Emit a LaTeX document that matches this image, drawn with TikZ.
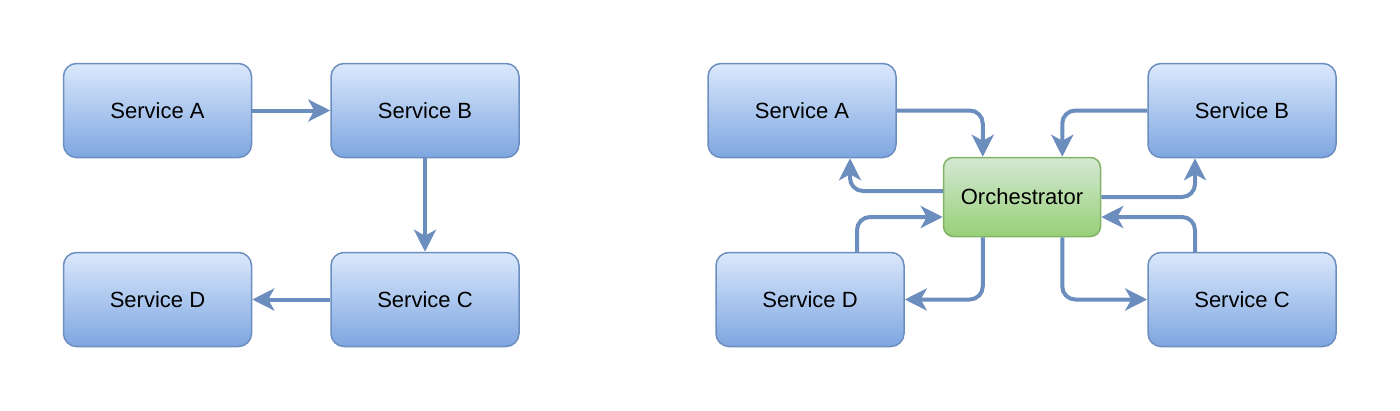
\documentclass[tikz,border=0pt]{standalone}
\usepackage{fontspec}
\setmainfont{Liberation Sans}
\usetikzlibrary{arrows.meta}
\definecolor{bluetop}{HTML}{DAE8FC}
\definecolor{bluebot}{HTML}{7EA6E0}
\definecolor{bluestroke}{HTML}{6C8EBF}
\definecolor{greentop}{HTML}{D5E8D4}
\definecolor{greenbot}{HTML}{97D077}
\definecolor{greenstroke}{HTML}{82B366}
\tikzset{
  svc/.style={draw=bluestroke, line width=1.5pt, rounded corners=13pt,
    top color=bluetop, bottom color=bluebot, minimum width=188pt, minimum height=94pt,
    inner sep=0pt, font=\fontsize{22}{26}\selectfont, text=black},
  orch/.style={draw=greenstroke, line width=1.5pt, rounded corners=10pt,
    top color=greentop, bottom color=greenbot, minimum width=157pt, minimum height=79pt,
    inner sep=0pt, font=\fontsize{22}{26}\selectfont, text=black},
  arr/.style={draw=bluestroke, line width=4pt, rounded corners=13pt,
    -{Stealth[length=22pt,width=22pt,inset=6pt]}}
}
\begin{document}
\begin{tikzpicture}[x=1pt,y=-1pt]
\useasboundingbox (0,0) rectangle (1400,410);
% left diagram
\node[svc] (lA) at (157.5,110.5) {Service A};
\node[svc] (lB) at (425,110.5) {Service B};
\node[svc] (lD) at (157.5,299.5) {Service D};
\node[svc] (lC) at (425,299.5) {Service C};
\draw[arr] (lA.east) -- (lB.west);
\draw[arr] (lB.south) -- (lC.north);
\draw[arr] (lC.west) -- (lD.east);
% right diagram
\node[svc] (rA) at (802,110.5) {Service A};
\node[svc] (rB) at (1242,110.5) {Service B};
\node[svc] (rD) at (810,299.5) {Service D};
\node[svc] (rC) at (1242,299.5) {Service C};
\node[orch] (O) at (1022,197) {Orchestrator};
\draw[arr] (rA.east) -| ([xshift=40pt]O.north west);
\draw[arr] (rB.west) -| ([xshift=-39pt]O.north east);
\draw[arr] ([yshift=6pt]O.west) -| ([xshift=48pt]rA.south);
\draw[arr] ([xshift=47pt]rD.north) |- ([yshift=-20pt]O.west);
\draw[arr] ([xshift=40pt]O.south west) |- (rD.east);
\draw[arr] ([xshift=-39pt]O.south east) |- (rC.west);
\draw[arr] (O.east) -| ([xshift=-47pt]rB.south);
\draw[arr] ([xshift=-47pt]rC.north) |- ([yshift=-20pt]O.east);
\end{tikzpicture}
\end{document}
